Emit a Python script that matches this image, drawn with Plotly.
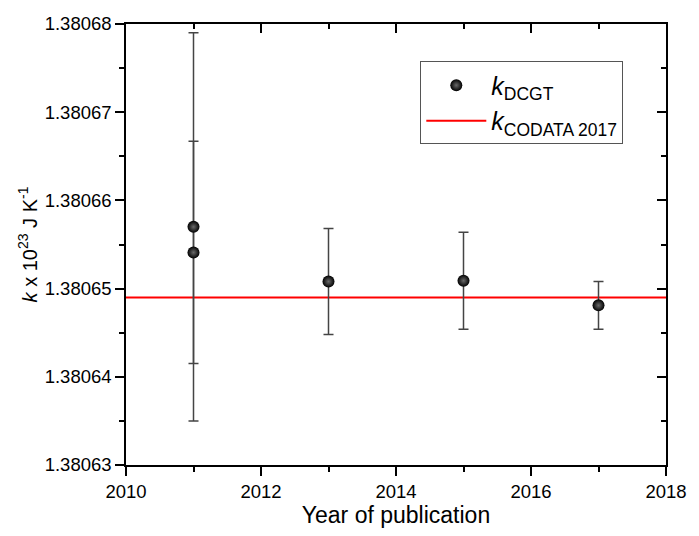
import plotly.graph_objects as go

# Data
years = [2011, 2011, 2013, 2015, 2017]
k_dcgt = [1.3806570, 1.3806541, 1.3806508, 1.3806509, 1.3806481]
k_err = [0.0000220, 0.0000126, 0.0000060, 0.0000055, 0.0000027]
codata_year_span = [2010, 2018]
k_codata = 1.380649

x_range = [2010, 2018]
y_range = [1.38063, 1.38068]

FONT = "Liberation Sans, Arial, sans-serif"

fig = go.Figure()

fig.add_trace(go.Scatter(
    x=codata_year_span, y=[k_codata, k_codata], mode="lines",
    line=dict(color="#ff0000", width=2),
    name="<i>k</i><sub>CODATA 2017</sub>",
))
fig.add_trace(go.Scatter(
    x=years, y=k_dcgt, mode="markers",
    marker=dict(symbol="circle", size=12, color="black",
                gradient=dict(type="radial", color="#6a6a6a"),
                line=dict(width=0)),
    error_y=dict(type="data", array=k_err, visible=True,
                 color="#444444", thickness=1.5, width=5),
    name="<i>k</i><sub>DCGT</sub>",
))
# helper trace for mirrored axes with inward ticks
fig.add_trace(go.Scatter(x=[None], y=[None], xaxis="x2", yaxis="y2",
                         showlegend=False, hoverinfo="skip"))

axis_common = dict(showgrid=False, zeroline=False, showline=True,
                   linecolor="black", linewidth=1.5,
                   tickcolor="black", tickwidth=1.5, ticklen=9)

fig.update_layout(
    width=699, height=536,
    margin=dict(l=126, r=21, t=24, b=69),
    paper_bgcolor="white", plot_bgcolor="white",
    font=dict(family=FONT, color="black", size=18),
    showlegend=True,
    legend=dict(x=0.545, y=0.915, xanchor="left", yanchor="top",
                traceorder="reversed",
                bordercolor="#555555", borderwidth=1,
                font=dict(family=FONT, size=25, color="black"),
                bgcolor="white", entrywidth=150, itemwidth=60,
                tracegroupgap=0),
    xaxis=dict(range=x_range, tick0=2010, dtick=2, ticks="outside",
               tickfont=dict(size=18.5),
               minor=dict(dtick=1, ticks="outside", ticklen=5,
                          tickwidth=1.5, tickcolor="black"),
               title=dict(text="Year of publication", font=dict(size=23),
                          standoff=6),
               **axis_common),
    yaxis=dict(range=y_range, tick0=1.38063, dtick=0.00001, tickformat=".5f",
               ticks="outside", tickfont=dict(size=18.5),
               minor=dict(dtick=0.000005, ticks="outside", ticklen=5,
                          tickwidth=1.5, tickcolor="black"),
               title=dict(text="<i>k</i> x 10<sup>23</sup> J K<sup>-1</sup>",
                          font=dict(size=20), standoff=2),
               **axis_common),
    xaxis2=dict(range=x_range, overlaying="x", side="top", anchor="y",
                tick0=2010, dtick=2, ticks="inside", showticklabels=False,
                minor=dict(dtick=1, ticks="inside", ticklen=5,
                           tickwidth=1.5, tickcolor="black"),
                **axis_common),
    yaxis2=dict(range=y_range, overlaying="y", side="right", anchor="x",
                tick0=1.38063, dtick=0.00001, ticks="inside",
                showticklabels=False,
                minor=dict(dtick=0.000005, ticks="inside", ticklen=5,
                           tickwidth=1.5, tickcolor="black"),
                **axis_common),
)

fig.write_html("out.html")
